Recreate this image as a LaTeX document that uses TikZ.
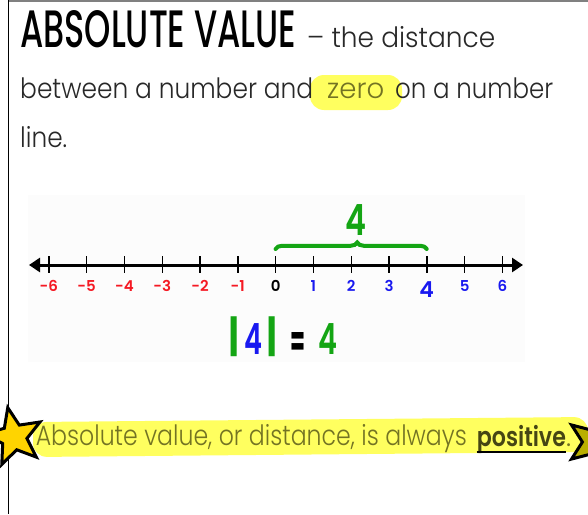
\documentclass[tikz,border=0pt]{standalone}
\usepackage{fontspec}
\usepackage{graphicx}
\usetikzlibrary{arrows.meta,decorations.pathreplacing,shapes.geometric}
\newfontfamily\hand{Poppins Light}
\newfontfamily\handB{Poppins SemiBold}
\newfontfamily\titlefont{Poppins Medium}
\newfontfamily\markerfont{Poppins SemiBold}
\newfontfamily\markerheavy{Poppins Bold}
\definecolor{hlyellow}{RGB}{255,255,95}
\definecolor{txtgray}{RGB}{40,40,40}
\definecolor{olivetxt}{RGB}{115,115,35}
\definecolor{olivedark}{RGB}{70,70,20}
\definecolor{nred}{RGB}{245,25,35}
\definecolor{nblue}{RGB}{25,25,240}
\definecolor{ngreen}{RGB}{20,165,20}
\definecolor{gold}{RGB}{255,212,0}
\definecolor{oliveStar}{RGB}{185,175,0}
\definecolor{bggray}{RGB}{252,252,252}
\begin{document}
\begin{tikzpicture}[x=1pt,y=-1pt,
  txt/.style={inner sep=0pt, anchor=base west, text=txtgray, font=\hand\fontsize{28}{30}\selectfont},
  btxt/.style={inner sep=0pt, anchor=base west, text=olivetxt, font=\hand\fontsize{28}{30}\selectfont},
  lab/.style={inner sep=0pt, font=\markerfont\fontsize{15}{16}\selectfont},
  big/.style={inner sep=0pt, font=\markerfont\fontsize{43}{44}\selectfont},
  tick/.style={line width=1.4pt},
  starbox/.style={star, star points=5, star point ratio=2.3, draw=black, line width=3pt, inner sep=0pt}]
\useasboundingbox (0,0) rectangle (588,514);
\fill[white] (0,0) rectangle (588,514);
\fill[bggray] (28,195) rectangle (525,362);
% frame
\draw[gray, line width=1.5pt] (8,0.75) -- (588,0.75);
\draw[black, line width=1.5pt] (8.5,0) -- (8.5,514);
% title
\node[inner sep=0pt, anchor=base west] (title) at (20,47) {\resizebox{276pt}{37pt}{\titlefont ABSOLUTE VALUE}};
\node[txt] (dash) at (307,47) {\resizebox{188pt}{\height}{– the distance}};
% line 2
\fill[hlyellow, rounded corners=14pt] (310,75) rectangle (402,110);
\node[txt] (l2a) at (20,98) {\resizebox{293pt}{\height}{between a number and}};
\node[txt, text=olivetxt] (zero) at (327,98) {\resizebox{57pt}{\height}{zero}};
\node[txt] (l2c) at (395,98) {\resizebox{158pt}{\height}{on a number}};
\node[txt] (l3) at (20,147) {\resizebox{47pt}{\height}{line.}};
% number line
\coordinate (L) at (29,265);
\coordinate (R) at (523,265);
\draw[line width=3pt, {Triangle[length=11pt,width=14pt]}-{Triangle[length=11pt,width=14pt]}] (L) -- (R);
\foreach \i in {-6,...,6} {
  \draw[tick] ({275.6+37.8*\i},256) -- ({275.6+37.8*\i},273);
}
\foreach \i in {-6,...,-1} {
  \node[lab, text=nred] (n\i) at ({275.6+37.8*\i},286) {\i};
}
\node[lab, text=black] (n0) at (275.6,286) {0};
\foreach \i in {1,2,3,5,6} {
  \node[lab, text=nblue] (n\i) at ({275.6+37.8*\i},286) {\i};
}
\node[lab, text=nblue, font=\markerfont\fontsize{22}{24}\selectfont] (n4) at (426.7,290) {4};
% brace and distance
\draw[ngreen, line width=4pt, line cap=round, decorate,
  decoration={brace, amplitude=6.5pt, aspect=0.54}] (275.6,249) -- (426.7,249);
\node[big, text=ngreen] (dist) at (356,220) {\resizebox{21pt}{\height}{4}};
% equation
\node[big, text=ngreen] (bar1) at (234,337) {|};
\node[big, text=nblue] (four) at (253.5,339) {\resizebox{18pt}{\height}{4}};
\node[big, text=ngreen] (bar2) at (272,337) {|};
\node[inner sep=0pt, text=black, font=\markerheavy\fontsize{43}{44}\selectfont] (eq) at (297.5,344) {\resizebox{15pt}{24pt}{=}};
\node[big, text=ngreen] (res) at (327.5,339) {\resizebox{19pt}{\height}{4}};
% bottom highlight
\fill[hlyellow, rounded corners=14pt] (33,422) -- (588,417) -- (588,452) -- (33,457) -- cycle;
\node[starbox, fill=oliveStar, minimum size=58pt, rotate=-18] (starR) at (595,442) {};
\node[starbox, fill=gold, minimum size=60pt, rotate=12] (starL) at (14,437) {};
\node[btxt] (s1) at (35.6,445) {\resizebox{431pt}{\height}{Absolute value, or distance, is always}};
\node[btxt, text=olivedark, font=\handB\fontsize{27}{30}\selectfont] (pos) at (476.7,446) {\resizebox{89pt}{\height}{positive}};
\node[btxt] (dot) at (566,446) {.};
\draw[line width=2.2pt, black] ([yshift=-6pt]pos.base west) -- ([yshift=-6pt]pos.base east);
\end{tikzpicture}
\end{document}
